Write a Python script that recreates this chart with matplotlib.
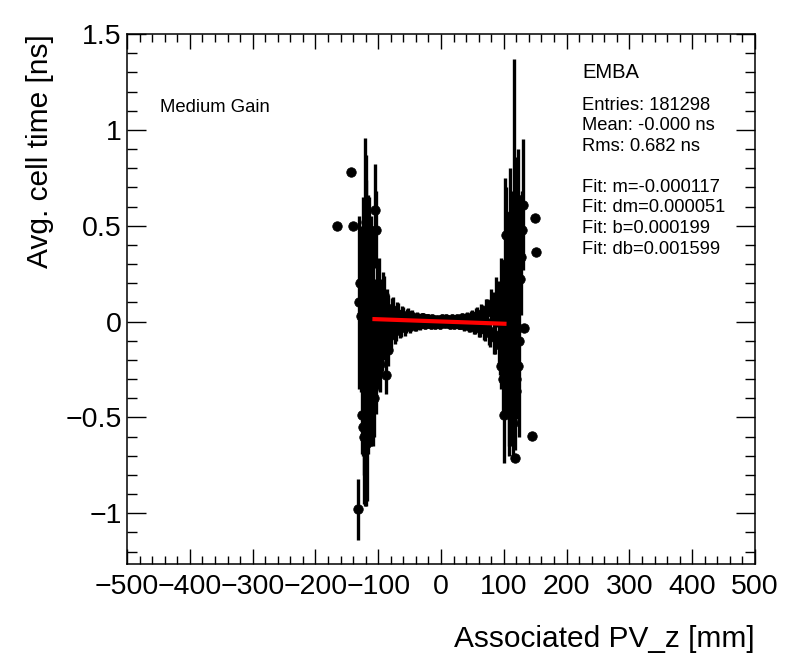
"""
Average cell time versus associated primary vertex z (EMBA, medium gain),
with the straight-line fit drawn on top.
"""
import matplotlib
matplotlib.use("Agg")
import matplotlib.pyplot as plt
from matplotlib.ticker import MultipleLocator, FuncFormatter
import numpy as np


# dense central band, points on even z (every 4 mm)
CORE_Z = [
    -124, -120, -116, -112, -108, -104, -100, -96, -92, -88, -84, -80, -76,
    -72, -68, -64, -60, -56, -52, -48, -44, -40, -36, -32, -28, -24, -20,
    -16, -12, -8, -4, 0, 4, 8, 12, 16, 20, 24, 28, 32, 36, 40, 44, 48, 52,
    56, 60, 64, 68, 72, 76, 80, 84, 88, 92, 96, 100, 104, 108, 112, 116,
    120, 124]
CORE_T = [
    0.05, -0.12, 0.21, -0.25, 0.10, -0.18, 0.08, -0.10, 0.12, -0.06, 0.05,
    -0.07, 0.06, -0.04, 0.04, -0.03, 0.03, -0.02, 0.035, -0.015, 0.02,
    -0.02, 0.015, 0.00, 0.02, -0.01, 0.015, -0.015, 0.01, 0.005, -0.01,
    0.01, -0.005, 0.012, -0.01, 0.005, -0.012, 0.01, -0.015, 0.008, -0.02,
    0.015, -0.025, 0.02, -0.03, 0.03, -0.035, 0.04, -0.04, 0.06, -0.05,
    0.09, -0.08, 0.12, -0.10, 0.15, -0.20, 0.22, -0.30, 0.28, -0.15, 0.10,
    -0.10]
CORE_ERR = [
    0.60, 0.55, 0.45, 0.40, 0.35, 0.30, 0.22, 0.18, 0.14, 0.11, 0.09, 0.08,
    0.07, 0.06, 0.055, 0.05, 0.045, 0.04, 0.035, 0.035, 0.03, 0.03, 0.028,
    0.025, 0.025, 0.025, 0.025, 0.025, 0.025, 0.025, 0.025, 0.025, 0.025,
    0.025, 0.025, 0.025, 0.025, 0.025, 0.025, 0.025, 0.028, 0.03, 0.03,
    0.035, 0.035, 0.04, 0.045, 0.05, 0.055, 0.06, 0.07, 0.08, 0.09, 0.11,
    0.14, 0.18, 0.22, 0.30, 0.35, 0.40, 0.50, 0.55, 0.50]

# same band, the bins in between (every 4 mm, shifted by 2 mm)
MID_Z = [
    -122, -118, -114, -110, -106, -102, -98, -94, -90, -86, -82, -78, -74,
    -70, -66, -62, -58, -54, -50, -46, -42, -38, -34, -30, -26, -22, -18,
    -14, -10, -6, -2, 2, 6, 10, 14, 18, 22, 26, 30, 34, 38, 42, 46, 50, 54,
    58, 62, 66, 70, 74, 78, 82, 86, 90, 94, 98, 102, 106, 110, 114, 118, 122]
MID_T = [
    -0.20, 0.15, -0.05, 0.12, -0.10, 0.05, -0.12, 0.06, -0.08, 0.07, -0.05,
    0.05, -0.05, 0.04, -0.035, 0.03, -0.03, 0.025, -0.025, 0.025, -0.02,
    0.02, -0.015, 0.018, -0.012, 0.012, -0.008, 0.015, -0.012, 0.01,
    -0.015, 0.012, -0.01, 0.008, -0.015, 0.012, -0.008, 0.012, -0.012,
    0.018, -0.01, 0.02, -0.02, 0.025, -0.025, 0.03, -0.03, 0.035, -0.04,
    0.05, -0.06, 0.07, -0.07, 0.09, -0.12, 0.10, -0.15, 0.05, -0.20, 0.15,
    -0.25, 0.30]
MID_ERR = [
    0.60, 0.50, 0.45, 0.38, 0.32, 0.26, 0.20, 0.16, 0.12, 0.10, 0.085,
    0.075, 0.065, 0.06, 0.05, 0.05, 0.045, 0.04, 0.035, 0.035, 0.03, 0.03,
    0.028, 0.025, 0.025, 0.025, 0.025, 0.025, 0.025, 0.025, 0.025, 0.025,
    0.025, 0.025, 0.025, 0.025, 0.025, 0.025, 0.025, 0.028, 0.03, 0.03,
    0.035, 0.035, 0.04, 0.045, 0.05, 0.05, 0.06, 0.065, 0.075, 0.085, 0.10,
    0.12, 0.16, 0.20, 0.26, 0.32, 0.38, 0.45, 0.42, 0.60]

# sparse points at the edges of the acceptance
EDGE_Z = [
    -165, -143, -140, -132, -130, -129, -127, -126, -125, -123, -121, -120,
    -119, -118, -117, -115, -113, -111, -109, -106, -105, -103, -101, -99,
    -97, -94, -91, -87, -85,
    95, 97, 99, 101, 102, 103, 105, 107, 108, 110, 111, 113, 115, 116, 117,
    118, 119, 120, 121, 122, 125, 127, 129, 131, 132, 145, 149, 151]
EDGE_T = [
    0.50, 0.78, 0.50, -0.98, 0.10, 0.20, 0.03, -0.49, -0.55, -0.60, 0.00,
    0.52, -0.11, -0.635, -0.29, 0.30, -0.20, 0.15, -0.35, -0.40, 0.58, 0.48,
    -0.15, 0.18, -0.22, -0.12, 0.14, -0.28, -0.15,
    -0.23, 0.16, -0.30, -0.49, 0.30, 0.45, -0.10, 0.20, -0.45, 0.55, -0.30,
    0.10, -0.53, 0.32, 0.36, -0.71, -0.36, -0.30, 0.64, -0.23, 0.22, 0.335,
    0.48, 0.61, -0.035, -0.595, 0.54, 0.363]
EDGE_ERR = [
    0.0, 0.0, 0.0, 0.16, 0.45, 0.30, 0.40, 0.20, 0.15, 0.35, 0.96, 0.35,
    0.85, 0.30, 0.40, 0.35, 0.30, 0.40, 0.30, 0.20, 0.24, 0.20, 0.20, 0.15,
    0.15, 0.14, 0.10, 0.10, 0.08,
    0.12, 0.12, 0.18, 0.25, 0.45, 0.25, 0.40, 0.35, 0.25, 0.25, 0.35, 0.45,
    0.20, 0.30, 1.01, 0.0, 0.15, 0.20, 0.22, 0.25, 0.15, 0.30, 0.20, 0.34,
    0.0, 0.0, 0.0, 0.0]

FIT_M = -0.000117
FIT_B = 0.000199
FIT_RANGE = [-106, 101]

STATS = [
    "Entries: 181298", "Mean: -0.000 ns", "Rms: 0.682 ns", "",
    "Fit: m=-0.000117", "Fit: dm=0.000051", "Fit: b=0.000199",
    "Fit: db=0.001599"]

FONT = "Liberation Sans"
W, H = 796, 672


def root_label(value: float, _pos) -> str:
    """Tick label like ROOT prints it: 1.5, 1, 0.5, 0, -0.5 ..."""
    text = f"{value:g}"
    if text == "-0":
        text = "0"
    return text.replace("-", "\u2212")


def pixel_text(x: float, y: float, text: str, size: float) -> None:
    """Puts text at a pixel position measured from the top left corner."""
    fig.text(x / W, 1 - y / H, text, fontsize=size, va="center", ha="left")


plt.rcParams["font.family"] = [FONT, "DejaVu Sans"]

fig = plt.figure(figsize=(W / 100, H / 100), dpi=100)
ax = fig.add_axes([0.1596, 0.1607, 0.7889, 0.7887])

style = dict(fmt="o", color="black", ms=6.8, elinewidth=2.4, capsize=0,
             mec="black", mew=0.6)
ax.errorbar(CORE_Z, CORE_T, yerr=CORE_ERR, **style)
ax.errorbar(MID_Z, MID_T, yerr=MID_ERR, **style)
ax.errorbar(EDGE_Z, EDGE_T, yerr=EDGE_ERR, **style)

fit_x = np.array(FIT_RANGE, dtype=float)
ax.plot(fit_x, FIT_M * fit_x + FIT_B, color="red", lw=3.0, zorder=5)

ax.set_xlim(-500, 500)
ax.set_ylim(-1.265, 1.5)
ax.xaxis.set_major_locator(MultipleLocator(100))
ax.xaxis.set_minor_locator(MultipleLocator(20))
ax.yaxis.set_major_locator(MultipleLocator(0.5))
ax.yaxis.set_minor_locator(MultipleLocator(0.1))
ax.xaxis.set_major_formatter(FuncFormatter(root_label))
ax.yaxis.set_major_formatter(FuncFormatter(root_label))
ax.tick_params(which="both", direction="in", top=True, right=True,
               width=1.0, labelsize=20.5)
ax.tick_params(axis="x", which="major", length=11, pad=7)
ax.tick_params(axis="x", which="minor", length=5.5)
ax.tick_params(axis="y", which="major", length=13.5, pad=4)
ax.tick_params(axis="y", which="minor", length=7)
for spine in ax.spines.values():
    spine.set_linewidth(1.1)

ax.set_xlabel("Associated PV_z [mm]", fontsize=21.5, loc="right",
              labelpad=18)
ax.set_ylabel("Avg. cell time [ns]", fontsize=21.5, loc="top", labelpad=8)

pixel_text(160, 107, "Medium Gain", 13.3)
pixel_text(582, 73, "EMBA", 14.5)
for i, line in enumerate(STATS):
    pixel_text(582, 105 + 20.6 * i, line, 13.2)

fig.savefig("out.png", dpi=100)
